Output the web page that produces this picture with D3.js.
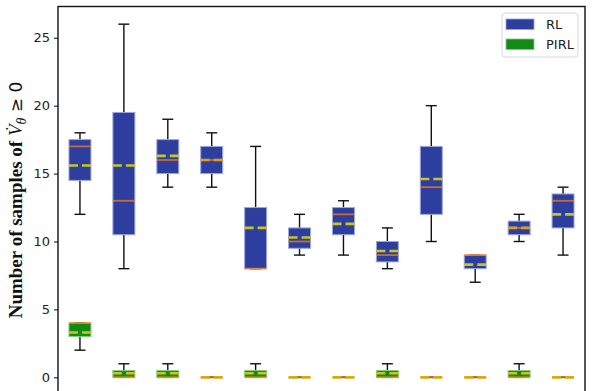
<!DOCTYPE html>
<html>
<head>
<meta charset="utf-8">
<script src="https://cdnjs.cloudflare.com/ajax/libs/d3/7.8.5/d3.min.js"></script>
<style>
    html, body { margin: 0; padding: 0; background: #fff; overflow: hidden; }
    svg { display: block; }
</style>
</head>
<body>
<div id="chart"></div>
<script>
// box positions (1..12)
const positions = [1, 2, 3, 4, 5, 6, 7, 8, 9, 10, 11, 12];
const yTicks = [0, 5, 10, 15, 20, 25];

// RL statistics
const rlLow = [12, 8, 14, 14, 8, 9, 9, 8, 10, 7, 10, 9];
const rlQ1 = [14.5, 10.5, 15, 15, 8, 9.5, 10.5, 8.5, 12, 8, 10.5, 11];
const rlMedian = [17, 13, 16, 16, 8, 10, 12, 9, 14, 9, 11, 13];
const rlQ3 = [17.5, 19.5, 17.5, 17, 12.5, 11, 12.5, 10, 17, 9, 11.5, 13.5];
const rlHigh = [18, 26, 19, 18, 17, 12, 13, 11, 20, 9, 12, 14];
const rlMean = [15.6, 15.6, 16.3, 16, 11, 10.3, 11.3, 9.3, 14.6, 8.3, 11, 12];

// PIRL statistics
const pirlLow = [2, 0, 0, 0, 0, 0, 0, 0, 0, 0, 0, 0];
const pirlQ1 = [3, 0, 0, 0, 0, 0, 0, 0, 0, 0, 0, 0];
const pirlMedian = [4, 0, 0, 0, 0, 0, 0, 0, 0, 0, 0, 0];
const pirlQ3 = [4, 0.5, 0.5, 0, 0.5, 0, 0, 0.5, 0, 0, 0.5, 0];
const pirlHigh = [4, 1, 1, 0, 1, 0, 0, 1, 0, 0, 1, 0];
const pirlMean = [3.3, 0.3, 0.3, 0, 0.3, 0, 0, 0.3, 0, 0, 0.3, 0];

const seriesNames = ["RL", "PIRL"];

function makeStats(low, q1, med, q3, high, mean) {
    return positions.map((p, i) => ({
        pos: p, low: low[i], q1: q1[i], med: med[i], q3: q3[i], high: high[i], mean: mean[i]
    }));
}

const series = [
    {name: seriesNames[0], fill: "#2d3e9e", edge: "#9ba6dc", data: makeStats(rlLow, rlQ1, rlMedian, rlQ3, rlHigh, rlMean)},
    {name: seriesNames[1], fill: "#138a13", edge: "#86c986", data: makeStats(pirlLow, pirlQ1, pirlMedian, pirlQ3, pirlHigh, pirlMean)}
];

const width = 601, height = 400;
const plot = {left: 58, right: 585, top: 6.5, bottom: 395};

let svg = d3.select("#chart").append("svg")
    .attr("width", width)
    .attr("height", height);

let x = d3.scaleLinear().domain([0.5, 12.5]).range([plot.left, plot.right]);
let y = d3.scaleLinear().domain([-1.3, 27.3]).range([plot.bottom, plot.top]);

const boxW = x(0.5) - x(0);   // box width 0.5
const capW = boxW / 2;

// y axis
let yAxis = d3.axisLeft(y)
    .tickValues(yTicks)
    .tickSize(4)
    .tickPadding(4)
    .tickFormat(d3.format("d"));

let gy = svg.append("g")
    .attr("transform", `translate(${plot.left},0)`)
    .call(yAxis);
gy.select(".domain").remove();
gy.selectAll(".tick line").attr("stroke", "#000").attr("stroke-width", 1);
gy.selectAll(".tick text")
    .attr("fill", "#222")
    .style("font-family", "'DejaVu Sans', sans-serif")
    .style("font-size", "13px");

// boxes
series.forEach(s => {
    let g = svg.append("g").attr("class", "series-" + s.name);
    let item = g.selectAll("g.box")
        .data(s.data)
        .enter().append("g")
        .attr("class", "box");

    // whiskers
    item.append("line")
        .attr("x1", d => x(d.pos)).attr("x2", d => x(d.pos))
        .attr("y1", d => y(d.q3)).attr("y2", d => y(d.high))
        .attr("stroke", "#111").attr("stroke-width", 1.4);
    item.append("line")
        .attr("x1", d => x(d.pos)).attr("x2", d => x(d.pos))
        .attr("y1", d => y(d.q1)).attr("y2", d => y(d.low))
        .attr("stroke", "#111").attr("stroke-width", 1.4);
    // caps
    item.append("line")
        .attr("x1", d => x(d.pos) - capW / 2).attr("x2", d => x(d.pos) + capW / 2)
        .attr("y1", d => y(d.high)).attr("y2", d => y(d.high))
        .attr("stroke", "#111").attr("stroke-width", 1.4);
    item.append("line")
        .attr("x1", d => x(d.pos) - capW / 2).attr("x2", d => x(d.pos) + capW / 2)
        .attr("y1", d => y(d.low)).attr("y2", d => y(d.low))
        .attr("stroke", "#111").attr("stroke-width", 1.4);

    // box
    item.append("rect")
        .attr("x", d => x(d.pos) - boxW / 2)
        .attr("width", boxW)
        .attr("y", d => y(d.q3))
        .attr("height", d => y(d.q1) - y(d.q3))
        .attr("fill", s.fill)
        .attr("stroke", s.edge)
        .attr("stroke-width", 1);

    // mean (dashed)
    item.append("line")
        .attr("x1", d => x(d.pos) - boxW / 2).attr("x2", d => x(d.pos) + boxW / 2)
        .attr("y1", d => y(d.mean)).attr("y2", d => y(d.mean))
        .attr("stroke", "#c9c61c").attr("stroke-width", 2.6)
        .attr("stroke-dasharray", "9,4");

    // median, a bit transparent so it blends with the mean line
    item.append("line")
        .attr("x1", d => x(d.pos) - boxW / 2).attr("x2", d => x(d.pos) + boxW / 2)
        .attr("y1", d => y(d.med)).attr("y2", d => y(d.med))
        .attr("stroke", "#ff7f0e").attr("stroke-opacity", 0.72)
        .attr("stroke-width", 1.8);
});

// spines
svg.append("rect")
    .attr("x", plot.left).attr("y", plot.top)
    .attr("width", plot.right - plot.left)
    .attr("height", plot.bottom - plot.top)
    .attr("fill", "none")
    .attr("stroke", "#111")
    .attr("stroke-width", 1.4);

// legend
let legend = svg.append("g").attr("transform", "translate(502,13)");
legend.append("rect")
    .attr("width", 76).attr("height", 44)
    .attr("rx", 3)
    .attr("fill", "#fff").attr("fill-opacity", 0.8)
    .attr("stroke", "#d6d6d6").attr("stroke-width", 1);
let li = legend.selectAll("g.item")
    .data(series)
    .enter().append("g")
    .attr("class", "item")
    .attr("transform", (d, i) => `translate(4,${6 + i * 20})`);
li.append("rect")
    .attr("width", 28).attr("height", 10.5)
    .attr("fill", d => d.fill)
    .attr("stroke", d => d.edge).attr("stroke-width", 0.8);
li.append("text")
    .attr("x", 40).attr("y", 10)
    .attr("fill", "#222")
    .style("font-family", "'DejaVu Sans', sans-serif")
    .style("font-size", "13px")
    .text(d => d.name);

// y label
let label = svg.append("text")
    .attr("transform", "translate(22,200) rotate(-90)")
    .attr("text-anchor", "middle")
    .attr("fill", "#111")
    .style("font-family", "'Liberation Serif', 'Times New Roman', serif")
    .style("font-size", "19px");
label.append("tspan").attr("font-weight", "bold").text("Number of samples of ");
label.append("tspan").attr("font-style", "italic").text("V\u0307");
label.append("tspan").attr("font-style", "italic").attr("font-size", "14px").attr("dy", 4).text("\u03b8");
label.append("tspan").attr("dy", -4).style("font-family", "'DejaVu Sans', sans-serif").style("font-size", "17px").text(" \u2265 0");
</script>
</body>
</html>
